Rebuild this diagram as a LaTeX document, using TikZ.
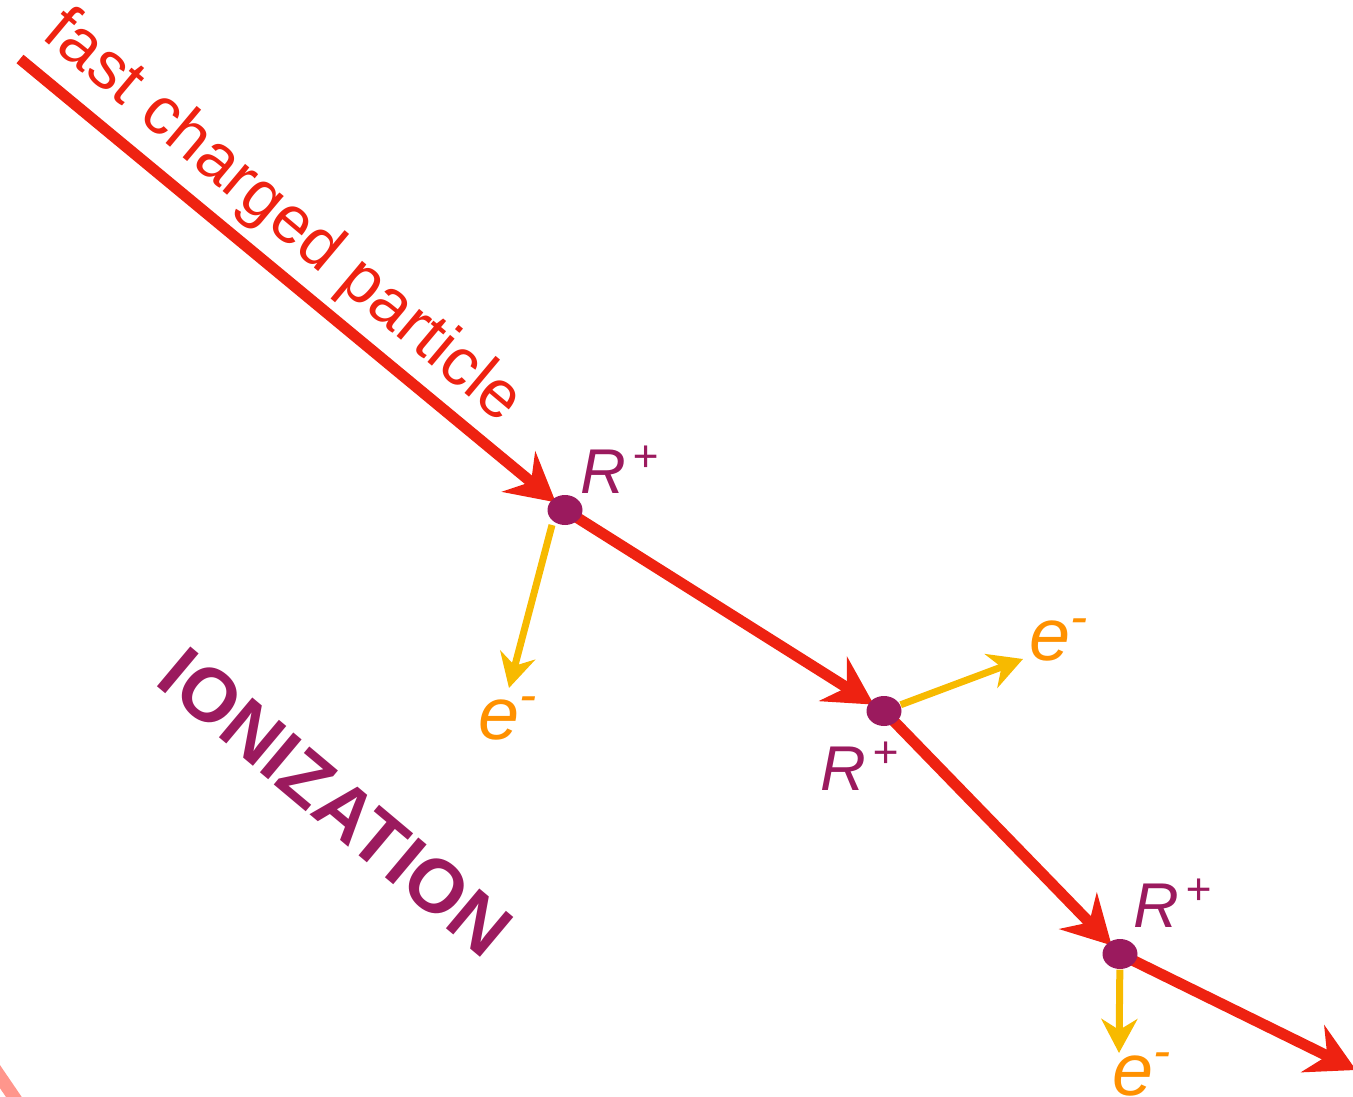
\documentclass[tikz,border=0pt]{standalone}
\usepackage{fontspec}
\setmainfont{Liberation Sans}
\usetikzlibrary{arrows.meta, shapes.geometric}

\definecolor{trackred}{RGB}{238,34,17}
\definecolor{ionpurple}{RGB}{155,26,94}
\definecolor{eyellow}{RGB}{247,186,0}
\definecolor{eorange}{RGB}{255,145,0}
\definecolor{fragpink}{RGB}{255,150,140}

\begin{document}
\begin{tikzpicture}[
        track/.style={line width=1.1mm, draw=trackred, -{Stealth[length=4.8mm, width=5.2mm, inset=1.6mm]}, shorten >=1.2mm},
        electron/.style={line width=0.7mm, draw=eyellow, -{Stealth[length=3.4mm, width=3.6mm, inset=1.1mm]}},
        ion/.style={ellipse, fill=ionpurple, inner sep=0pt, minimum width=3.5mm, minimum height=3mm},
        ionlbl/.style={anchor=base west, inner sep=0pt, text=ionpurple, font=\fontsize{18}{20}\selectfont\itshape},
        elbl/.style={anchor=base west, inner sep=0pt, text=eorange, font=\fontsize{21}{24}\selectfont\itshape}
    ]
    \useasboundingbox (0,0) rectangle (13.53,-10.97);

    \draw [line width=1.3mm, draw=fragpink] (-0.10,-10.62) -- (0.20,-11.06);

    \coordinate (p0) at (0.20,-0.59);
    \coordinate (s1) at (5.65,-5.10);
    \coordinate (s2) at (8.84,-7.11);
    \coordinate (s3) at (11.20,-9.54);
    \coordinate (p4) at (13.56,-10.70);
    \coordinate (o1) at (5.52,-5.25);
    \coordinate (t1) at (5.09,-6.88);
    \coordinate (t2) at (10.23,-6.59);
    \coordinate (t3) at (11.19,-10.53);

    \draw [track, shorten <=0pt] (p0) -- (s1);
    \draw [track] (s1) -- (s2);
    \draw [track] (s2) -- (s3);
    \draw [track, shorten >=0pt] (s3) -- (p4);

    \draw [electron] (o1) -- (t1);

    \node (r1) [ion] at (s1) {};
    \node (r2) [ion] at (s2) {};
    \node (r3) [ion] at (s3) {};

    \draw [electron] (r2) -- (t2);
    \draw [electron] (r3) -- (t3);

    \node (rl1) [ionlbl] at (5.80,-4.94) {R\kern.1em\textsuperscript{+}};
    \node (rl2) [ionlbl] at (8.20,-7.90) {R\kern.1em\textsuperscript{+}};
    \node (rl3) [ionlbl] at (11.33,-9.27) {R\kern.1em\textsuperscript{+}};

    \node (el1) [elbl] at (4.78,-7.39) {e\textsuperscript{-}};
    \node (el2) [elbl] at (10.29,-6.61) {e\textsuperscript{-}};
    \node (el3) [elbl] at (11.12,-10.95) {e\textsuperscript{-}};

    \node (fast) [anchor=base, inner sep=0pt, rotate=-40, text=trackred, font=\fontsize{19}{21}\selectfont] at (2.71,-2.31) {fast charged particle};
    \node (ionz) [anchor=base, inner sep=0pt, rotate=-40, text=ionpurple, font=\fontsize{21.5}{24}\selectfont\bfseries] at (3.19,-8.22) {IONIZATION};
\end{tikzpicture}
\end{document}
